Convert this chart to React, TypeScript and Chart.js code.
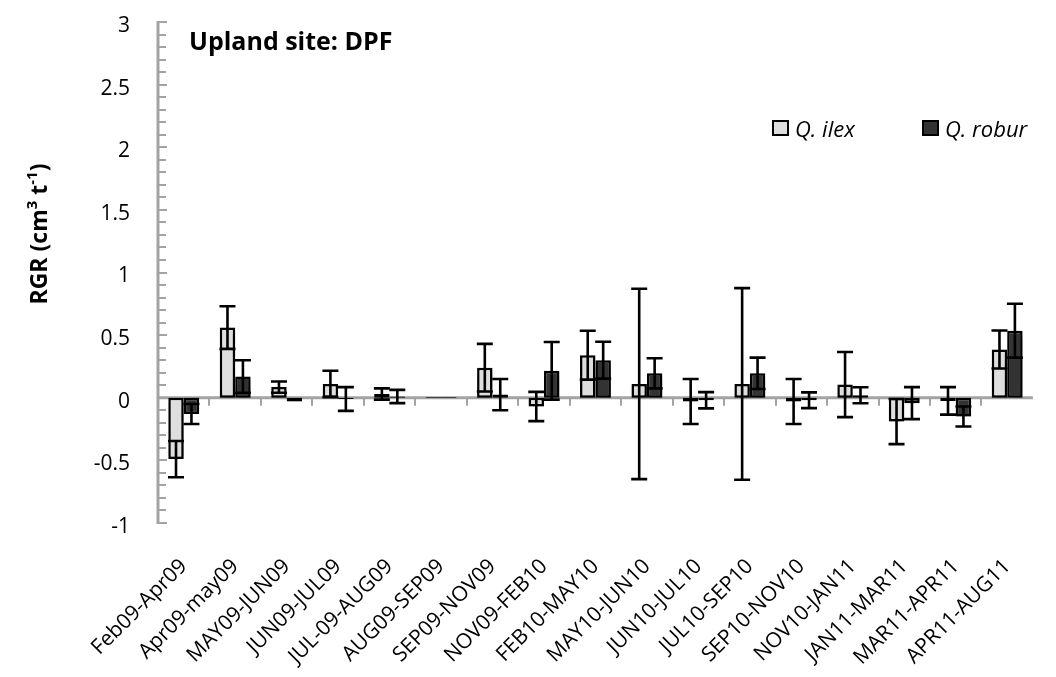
import React, { useEffect, useRef } from "react";
import { Chart, registerables } from "chart.js";

Chart.register(...registerables);

const categories = [
  "Feb09-Apr09", "Apr09-may09", "MAY09-JUN09", "JUN09-JUL09", "JUL-09-AUG09",
  "AUG09-SEP09", "SEP09-NOV09", "NOV09-FEB10", "FEB10-MAY10", "MAY10-JUN10",
  "JUN10-JUL10", "JUL10-SEP10", "SEP10-NOV10", "NOV10-JAN11", "JAN11-MAR11",
  "MAR11-APR11", "APR11-AUG11",
];
const ilexValues = [-0.49, 0.56, 0.085, 0.11, 0.03, 0.005, 0.24, -0.07, 0.34, 0.11, -0.03, 0.11, -0.03, 0.105, -0.19, -0.025, 0.385];
const ilexErrors = [0.145, 0.17, 0.045, 0.105, 0.045, 0, 0.19, 0.117, 0.195, 0.76, 0.18, 0.765, 0.18, 0.26, 0.18, 0.11, 0.152];
const roburValues = [-0.13, 0.17, -0.03, -0.01, 0.01, 0.005, 0.025, 0.215, 0.3, 0.195, -0.02, 0.195, -0.02, 0.02, -0.043, -0.15, 0.535];
const roburErrors = [0.08, 0.13, 0, 0.095, 0.053, 0, 0.125, 0.23, 0.147, 0.12, 0.065, 0.125, 0.063, 0.064, 0.128, 0.08, 0.215];
const seriesNames = ["Q. ilex", "Q. robur"];
const seriesColors = ["#DEDEDE", "#333333"];
const yMin = -1;
const yMax = 3;
const yStep = 0.5;
const yMinorStep = 0.1;
const titleText = "Upland site: DPF";

const FONT = "'Open Sans', 'DejaVu Sans', sans-serif";
const AXIS_GRAY = "#A3A3A3";

const axisPlugin = {
  id: "axisDecor",
  beforeDatasetsDraw(chart: any) {
    const { ctx, chartArea, scales } = chart;
    const x = scales.x;
    const y = scales.y;
    const left = chartArea.left;
    ctx.save();
    ctx.strokeStyle = AXIS_GRAY;
    ctx.lineWidth = 3;
    ctx.beginPath();
    ctx.moveTo(left, y.getPixelForValue(yMax) - 1);
    ctx.lineTo(left, y.getPixelForValue(yMin) + 1);
    ctx.stroke();
    ctx.lineWidth = 2;
    ctx.beginPath();
    const nMinor = Math.round((yMax - yMin) / yMinorStep);
    for (let i = 0; i <= nMinor; i++) {
      const v = yMin + i * yMinorStep;
      const py = Math.round(y.getPixelForValue(v));
      const major = i % Math.round(yStep / yMinorStep) === 0;
      ctx.moveTo(left, py);
      ctx.lineTo(left + (major ? 9 : 8), py);
    }
    ctx.stroke();
    const y0 = y.getPixelForValue(0);
    ctx.lineWidth = 3;
    ctx.beginPath();
    ctx.moveTo(left, y0);
    ctx.lineTo(chartArea.right, y0);
    ctx.stroke();
    ctx.lineWidth = 2;
    ctx.beginPath();
    const n = categories.length;
    for (let i = 1; i < n; i++) {
      const px = Math.round((x.getPixelForValue(i - 1) + x.getPixelForValue(i)) / 2);
      ctx.moveTo(px, y0);
      ctx.lineTo(px, y0 + 8);
    }
    ctx.stroke();
    ctx.restore();
  },
  beforeDatasetDraw(chart: any) {
    const ctx = chart.ctx;
    ctx.save();
    ctx.shadowColor = "rgba(0,0,0,0.45)";
    ctx.shadowBlur = 9;
    ctx.shadowOffsetX = 2;
    ctx.shadowOffsetY = 4;
  },
  afterDatasetDraw(chart: any) {
    chart.ctx.restore();
  },
  afterDatasetsDraw(chart: any) {
    const { ctx, scales } = chart;
    const y = scales.y;
    const sets = [
      [ilexValues, ilexErrors],
      [roburValues, roburErrors],
    ];
    ctx.save();
    ctx.strokeStyle = "#000";
    ctx.lineWidth = 2.6;
    sets.forEach(([vals, errs], di) => {
      const meta = chart.getDatasetMeta(di);
      meta.data.forEach((bar: any, i: number) => {
        const e = errs[i];
        if (!e) return;
        const v = vals[i];
        const top = y.getPixelForValue(v + e);
        const bot = y.getPixelForValue(v - e);
        const cx = bar.x;
        ctx.beginPath();
        ctx.moveTo(cx, top);
        ctx.lineTo(cx, bot);
        ctx.moveTo(cx - 8, top);
        ctx.lineTo(cx + 8, top);
        ctx.moveTo(cx - 8, bot);
        ctx.lineTo(cx + 8, bot);
        ctx.stroke();
      });
    });
    ctx.restore();
  },
  afterDraw(chart: any) {
    const { ctx } = chart;
    ctx.save();
    ctx.fillStyle = "#000";
    ctx.font = `bold 25px ${FONT}`;
    ctx.textAlign = "left";
    ctx.textBaseline = "alphabetic";
    ctx.fillText(titleText, 189, 50);

    const legendItems = [
      { x: 773, color: seriesColors[0], label: seriesNames[0] },
      { x: 923, color: seriesColors[1], label: seriesNames[1] },
    ];
    ctx.font = `italic 22px ${FONT}`;
    legendItems.forEach((it) => {
      ctx.fillStyle = it.color;
      ctx.fillRect(it.x, 121, 15, 14);
      ctx.strokeStyle = "#000";
      ctx.lineWidth = 2;
      ctx.strokeRect(it.x, 121, 15, 14);
      ctx.fillStyle = "#000";
      ctx.fillText(it.label, it.x + 22, 137);
    });

    ctx.translate(40, 234);
    ctx.rotate(-Math.PI / 2);
    const parts = [
      { t: "RGR (cm", sup: false },
      { t: "3", sup: true },
      { t: " t", sup: false },
      { t: "-1", sup: true },
      { t: ")", sup: false },
    ];
    const big = `bold 23px ${FONT}`;
    const small = `bold 15px ${FONT}`;
    let total = 0;
    parts.forEach((p) => {
      ctx.font = p.sup ? small : big;
      total += ctx.measureText(p.t).width;
    });
    let cx = -total / 2;
    ctx.textBaseline = "middle";
    parts.forEach((p) => {
      ctx.font = p.sup ? small : big;
      ctx.fillText(p.t, cx, p.sup ? -7 : 0);
      cx += ctx.measureText(p.t).width;
    });
    ctx.restore();
  },
};

export default function App() {
  const canvasRef = useRef<HTMLCanvasElement | null>(null);

  useEffect(() => {
    const canvas = canvasRef.current;
    if (!canvas) return;
    const chart = new Chart(canvas, {
      type: "bar",
      data: {
        labels: categories,
        datasets: [
          {
            label: seriesNames[0],
            data: ilexValues,
            backgroundColor: seriesColors[0],
            borderColor: "#000",
            borderWidth: 2.5,
            borderSkipped: false,
            categoryPercentage: 0.6,
            barPercentage: 1.0,
          },
          {
            label: seriesNames[1],
            data: roburValues,
            backgroundColor: seriesColors[1],
            borderColor: "#000",
            borderWidth: 2.5,
            borderSkipped: false,
            categoryPercentage: 0.6,
            barPercentage: 1.0,
          },
        ],
      },
      options: {
        responsive: false,
        animation: false,
        layout: { padding: { top: 22, right: 0, left: 0, bottom: 0 } },
        plugins: {
          legend: { display: false },
          tooltip: { enabled: false },
          title: { display: false },
        },
        scales: {
          x: {
            grid: { display: false, drawTicks: false },
            border: { display: false },
            ticks: {
              autoSkip: false,
              minRotation: 45,
              maxRotation: 45,
              padding: 31,
              color: "#000",
              font: { family: FONT, size: 21 },
            },
            afterFit(scale: any) {
              scale.height = 154;
            },
          },
          y: {
            min: yMin,
            max: yMax,
            grid: { display: false, drawTicks: false },
            border: { display: false },
            ticks: {
              stepSize: yStep,
              padding: 28,
              labelOffset: 4,
              color: "#000",
              font: { family: FONT, size: 21 },
              callback: (v: any) => String(Math.round(Number(v) * 10) / 10),
            },
            afterFit(scale: any) {
              scale.width = 158;
              scale.paddingTop = 0;
              scale.paddingBottom = 0;
            },
          },
        },
      },
      plugins: [axisPlugin],
    });
    return () => chart.destroy();
  }, []);

  return (
    <div style={{ position: "fixed", left: 0, top: 0, width: 1056, height: 677, background: "#fff" }}>
      <canvas ref={canvasRef} width={1056} height={677} />
    </div>
  );
}
